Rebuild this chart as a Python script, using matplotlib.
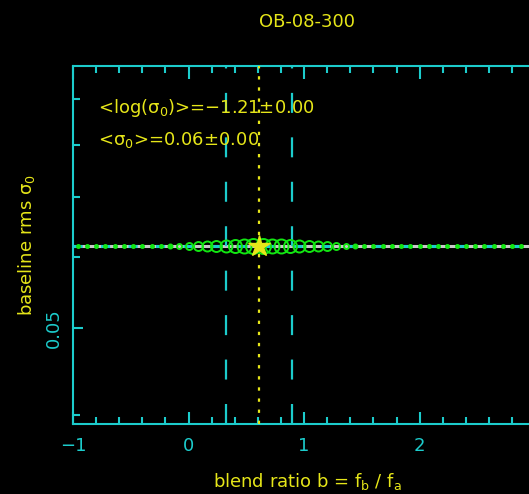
import matplotlib
matplotlib.use("Agg")
import matplotlib.pyplot as plt
from matplotlib.ticker import FixedLocator, FixedFormatter, NullFormatter

# ---- data ----
title = "OB-08-300"
b_grid = [-0.96, -0.88, -0.80, -0.72, -0.64, -0.56, -0.48, -0.40, -0.32, -0.24,
          -0.16, -0.08, 0.00, 0.08, 0.16, 0.24, 0.32, 0.40, 0.48, 0.56,
          0.64, 0.72, 0.80, 0.88, 0.96, 1.04, 1.12, 1.20, 1.28, 1.36,
          1.44, 1.52, 1.60, 1.68, 1.76, 1.84, 1.92, 2.00, 2.08, 2.16,
          2.24, 2.32, 2.40, 2.48, 2.56, 2.64, 2.72, 2.80, 2.88, 2.96, 3.04]
circle_px = [3, 3, 3, 3, 3, 3, 3, 3, 3, 3,
             4, 5, 7, 9, 10, 11, 12, 13, 14, 15,
             15, 14, 14, 13, 12, 11, 10, 9, 7, 5,
             4, 3, 3, 3, 3, 3, 3, 3, 3, 3,
             3, 3, 3, 3, 3, 3, 3, 3, 3, 3, 3]
sigma0 = 0.0617          # 10**-1.21
b_best = 0.61
b_lo, b_hi = 0.325, 0.895
label_log = r"<log($\sigma_0$)>=$-$1.21$\pm$0.00"
label_lin = r"<$\sigma_0$>=0.06$\pm$0.00"
xticks = [-1, 0, 1, 2]
yticks = [0.05]
yminor = [0.04, 0.06, 0.07, 0.08, 0.09]

CYAN = "#1ccccc"
YELLOW = "#e6e619"
GREEN = "#12e612"
GRAY = "#c8c8c8"

plt.rcParams["mathtext.default"] = "regular"
plt.rcParams["font.family"] = "DejaVu Sans"

fig = plt.figure(figsize=(5.29, 4.94), dpi=100, facecolor="black")
ax = fig.add_axes([73 / 529, 70 / 494, 468 / 529, 358 / 494], facecolor="black")

ax.set_yscale("log")
ax.set_xlim(-1, 3.05)
ax.set_ylim(0.0391, 0.098)

# baseline level
ax.axhline(sigma0, color=GRAY, lw=2.2, zorder=2)
ax.axhline(sigma0, color=CYAN, lw=2.2, ls=(0, (3, 6)), zorder=3)

# blend-ratio range and best value
for b in (b_lo, b_hi):
    ax.axvline(b, color=CYAN, lw=1.6, ls=(0, (9, 11)), zorder=4)
ax.axvline(b_best, color=YELLOW, lw=1.6, ls=(0, (1.5, 3.5)), zorder=4)

for b, s in zip(b_grid, circle_px):
    ax.plot(b, sigma0, "o", ms=s * 0.72, mfc="none" if s > 4 else GREEN,
            mec=GREEN, mew=1.4, zorder=5)
ax.plot(b_best, sigma0, "*", ms=16, color=YELLOW, zorder=6)

ax.text(0.053, 0.883, label_log, transform=ax.transAxes, color=YELLOW,
        fontsize=13, va="center", ha="left", zorder=7)
ax.text(0.053, 0.793, label_lin, transform=ax.transAxes, color=YELLOW,
        fontsize=13, va="center", ha="left", zorder=7)

for side in ax.spines.values():
    side.set_color(CYAN)
    side.set_linewidth(1.5)

ax.set_xticks(xticks)
ax.xaxis.set_minor_locator(FixedLocator([v / 5 for v in range(-5, 16)]))
ax.yaxis.set_major_locator(FixedLocator(yticks))
ax.yaxis.set_minor_locator(FixedLocator(yminor))
ax.yaxis.set_major_formatter(FixedFormatter(["0.05"]))
ax.yaxis.set_minor_formatter(NullFormatter())
ax.tick_params(which="both", direction="in", colors=CYAN, top=True, right=True,
               width=1.5, labelsize=13, labelcolor=CYAN)
ax.tick_params(which="major", length=9, pad=9)
ax.tick_params(which="minor", length=5)
ax.tick_params(axis="y", which="major", length=7, pad=7)
for lab in ax.get_yticklabels():
    lab.set_rotation(90)
    lab.set_va("center")

ax.set_xlabel(r"blend ratio b = f$_b$ / f$_a$", color=YELLOW, fontsize=13, labelpad=12)
ax.set_ylabel(r"baseline rms $\sigma_0$", color=YELLOW, fontsize=13, labelpad=6)
ax.set_title(title, color=YELLOW, fontsize=13, pad=28)

fig.savefig("out.png", dpi=100, facecolor="black")
